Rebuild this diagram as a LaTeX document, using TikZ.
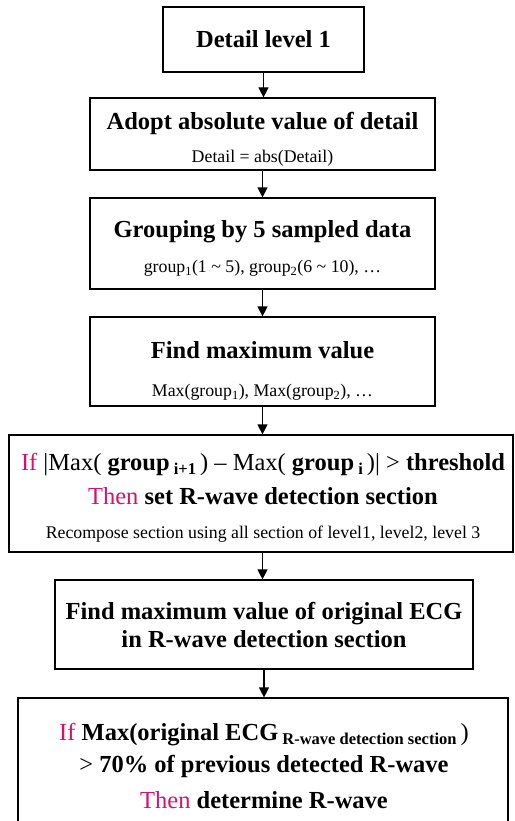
\documentclass[tikz,border=0pt]{standalone}
\usepackage{fontspec}
\setmainfont{Liberation Serif}
\usetikzlibrary{arrows.meta}

\definecolor{ifpink}{RGB}{212,18,106}
\newcommand{\ttl}{\fontsize{24.5}{28}\selectfont\bfseries}
\newcommand{\sml}{\fontsize{17.8}{28}\selectfont\mdseries}
\newcommand{\subs}[1]{\raisebox{-4pt}{\fontsize{16.5}{16.5}\selectfont\bfseries #1}}
\newcommand{\kw}[1]{{\color{ifpink}\mdseries #1}}

\begin{document}
\begin{tikzpicture}[x=1pt,y=-1pt,
	step_box/.style={draw,line width=1.2pt,inner sep=0pt},
	step_text/.style={align=center,inner sep=0pt,font=\ttl},
	flow_arrow/.style={line width=1.2pt,-{Triangle[width=10pt,length=10pt]}}]
	\useasboundingbox (0,0) rectangle (514,821);
	% boxes
	\node[step_box,minimum width=201pt,minimum height=65pt,font=\ttl] (det) at (263.5,39.5) {Detail level 1};
	\node[step_box,minimum width=345pt,minimum height=72pt] (absval) at (262.5,134) {};
	\node[step_box,minimum width=345pt,minimum height=91pt] (grp) at (262.5,243.5) {};
	\node[step_box,minimum width=345pt,minimum height=89pt] (maxval) at (262.5,361.5) {};
	\node[step_box,minimum width=504pt,minimum height=117pt] (thresh) at (261,493.5) {};
	\node[step_box,minimum width=418pt,minimum height=89pt] (origmax) at (264,624.5) {};
	\node[step_box,minimum width=490pt,minimum height=136pt] (decide) at (263,766) {};

	% texts
	\node[step_text] (absval_txt) at (262.5,139.5) {Adopt absolute value of detail\\[5pt] \sml Detail = abs(Detail)};
	\node[step_text] (grp_txt) at (262.5,248.5) {Grouping by 5 sampled data\\[7pt] \sml group\textsubscript{1}(1 \textasciitilde{} 5), group\textsubscript{2}(6 \textasciitilde{} 10), \dots};
	\node[step_text] (maxval_txt) at (262.5,371) {Find maximum value\\[10pt] \sml Max(group\textsubscript{1}), Max(group\textsubscript{2}), \dots};
	\node[step_text] (thresh_txt) at (263,498) {\kw{If} {\mdseries |Max(} group\,\subs{i+1}\,{\mdseries ) -- Max(} group\,\subs{i}\,{\mdseries )| >} threshold\\[6pt] \kw{Then} set R-wave detection section\\[6pt] \sml Recompose section using all section of level1, level2, level 3};
	\node[step_text] (origmax_txt) at (264,625) {Find maximum value of original ECG\\ in R-wave detection section};
	\node[step_text] (decide_txt) at (264,766) {\kw{If} Max(original ECG\,\subs{R-wave detection section}\,{\mdseries )}\\[4pt] {\mdseries >} 70\% of previous detected R-wave\\[8pt] \kw{Then} determine R-wave};

	% arrows
	\draw[flow_arrow] (det.south) -- (det.south |- absval.north);
	\draw[flow_arrow] (absval.south) -- (absval.south |- grp.north);
	\draw[flow_arrow] (grp.south) -- (grp.south |- maxval.north);
	\draw[flow_arrow] (maxval.south) -- (maxval.south |- thresh.north);
	\draw[flow_arrow] (maxval.south |- thresh.south) -- (maxval.south |- origmax.north);
	\draw[flow_arrow] (origmax.south) -- (origmax.south |- decide.north);
\end{tikzpicture}
\end{document}
